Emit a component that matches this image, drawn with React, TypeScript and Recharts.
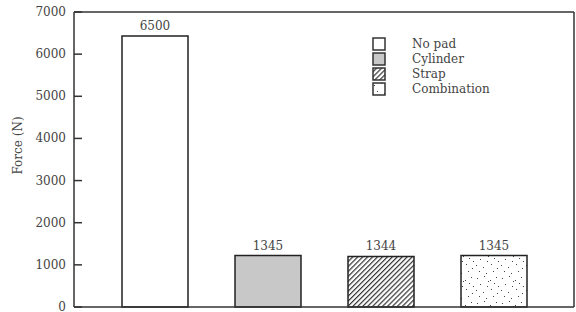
import { BarChart, Bar, XAxis, YAxis, Cell, LabelList } from "recharts"

// ---------------------------------------------------------------------------
// Données
// ---------------------------------------------------------------------------

const categories = ["No pad", "Cylinder", "Strap", "Combination"]
const forces = [6430, 1220, 1200, 1220]
const barLabels = ["6500", "1345", "1344", "1345"]
const yTicks = [0, 1000, 2000, 3000, 4000, 5000, 6000, 7000]

const FILLS = ["#ffffff", "#c8c8c8", "url(#hatch)", "url(#dots)"]
const FONT = "'DejaVu Serif', serif"
const INK = "#333333"

const data = categories.map((name, i) => ({
  name,
  value: forces[i],
  label: barLabels[i],
}))

// dots for the "Combination" fill (style only)
const DOTS: Array<[number, number]> = [
  [2, 3], [9, 1], [15, 5], [21, 2], [5, 9], [12, 11], [19, 8], [1, 15],
  [8, 17], [16, 14], [22, 18], [4, 21], [11, 23], [18, 21], [13, 6], [23, 11],
]

// ---------------------------------------------------------------------------
// Ticks, label, legend
// ---------------------------------------------------------------------------

function YTick({ x, y, payload }: { x: number; y: number; payload: { value: number } }) {
  return (
    <g>
      <line x1={x + 8} x2={x + 16} y1={y} y2={y} stroke={INK} strokeWidth={1.5} />
      <text x={x} y={y} dy={4} textAnchor="end" fontSize={12} fontFamily={FONT} fill="#444">
        {payload.value}
      </text>
    </g>
  )
}

function YLabel({ viewBox }: { viewBox?: { x: number; y: number; width: number; height: number } }) {
  if (!viewBox) return null
  const cx = 18
  const cy = viewBox.y + viewBox.height / 2 - 14
  return (
    <text
      x={cx}
      y={cy}
      transform={`rotate(-90 ${cx} ${cy})`}
      textAnchor="middle"
      dominantBaseline="central"
      fontSize={12}
      fontFamily={FONT}
      fill="#444"
    >
      Force (N)
    </text>
  )
}

function LegendBox() {
  return (
    <div style={{ position: "absolute", left: 372, top: 36, fontFamily: FONT, fontSize: 12, color: "#444" }}>
      {categories.map((name, i) => (
        <div key={name} style={{ display: "flex", alignItems: "center", height: 15 }}>
          <svg width={14} height={14} style={{ display: "block" }}>
            <rect x={1} y={1} width={12} height={12} fill={FILLS[i]} stroke={INK} strokeWidth={1.5} />
          </svg>
          <span style={{ marginLeft: 26 }}>{name}</span>
        </div>
      ))}
    </div>
  )
}

// ---------------------------------------------------------------------------
// Component
// ---------------------------------------------------------------------------

export default function App() {
  return (
    <div style={{ position: "absolute", left: 0, top: 0, width: 576, height: 312, background: "#fff" }}>
      <BarChart width={576} height={312} data={data} margin={{ top: 11, right: 1, bottom: 4, left: 0 }}>
        <defs>
          <pattern id="hatch" patternUnits="userSpaceOnUse" width={3.5} height={3.5} patternTransform="rotate(45)">
            <rect width={3.5} height={3.5} fill="#ffffff" />
            <line x1={0} y1={0} x2={0} y2={3.5} stroke="#333" strokeWidth={2.4} />
          </pattern>
          <pattern id="dots" patternUnits="userSpaceOnUse" width={25} height={25}>
            <rect width={25} height={25} fill="#ffffff" />
            {DOTS.map(([cx, cy], i) => (
              <rect key={i} x={cx} y={cy} width={1} height={1} fill="#444" />
            ))}
          </pattern>
        </defs>

        <XAxis
          dataKey="name"
          tick={false}
          tickLine={false}
          height={1}
          padding={{ left: 24, right: 24 }}
          stroke={INK}
          strokeWidth={1.5}
        />
        <XAxis xAxisId="top" orientation="top" dataKey="name" tick={false} tickLine={false} height={1}
          stroke={INK} strokeWidth={1.5} />

        <YAxis
          width={74}
          domain={[0, 7000]}
          ticks={yTicks}
          interval={0}
          tickSize={0}
          tickMargin={8}
          tick={YTick}
          stroke={INK}
          strokeWidth={1.5}
          label={<YLabel />}
        />
        <YAxis yAxisId="right" orientation="right" width={1} tick={false} tickLine={false}
          stroke={INK} strokeWidth={1.5} />

        <Bar dataKey="value" barSize={66} stroke="#222" strokeWidth={1.5} isAnimationActive={false}>
          {data.map((d, i) => (
            <Cell key={d.name} fill={FILLS[i]} />
          ))}
          <LabelList dataKey="label" position="top" offset={6} fontSize={12} fontFamily={FONT} fill="#444" />
        </Bar>
      </BarChart>
      <LegendBox />
    </div>
  )
}
